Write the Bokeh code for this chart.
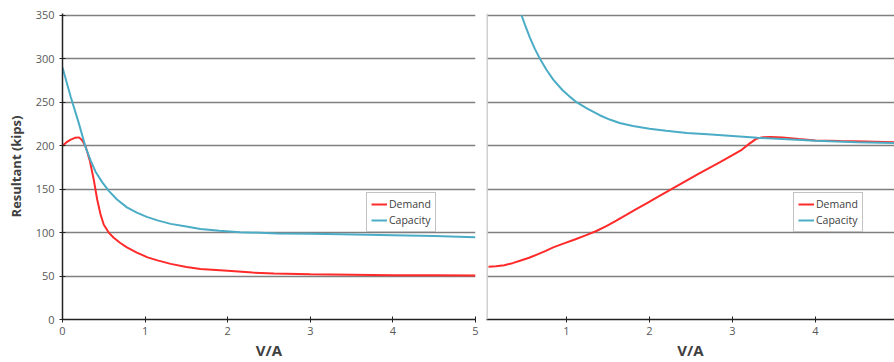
from bokeh.plotting import figure
from bokeh.layouts import row
from bokeh.models import FixedTicker, Span, Range1d
from bokeh.embed import file_html
from bokeh.resources import INLINE

# ---- data ----
y_ticks = [0, 50, 100, 150, 200, 250, 300, 350]
x_ticks_left = [0, 1, 2, 3, 4, 5]
x_ticks_right = [1, 2, 3, 4]

dem_x_l = [0, 0.05, 0.1, 0.15, 0.2, 0.24, 0.28, 0.33, 0.38, 0.42, 0.46, 0.5, 0.56, 0.62, 0.7, 0.78,
           0.9, 1.03, 1.15, 1.31, 1.5, 1.67, 2.0, 2.3, 2.56, 3.0, 3.5, 4.0, 4.5, 5.0]
dem_y_l = [200, 204, 207, 209, 209.5, 206, 199, 183, 160, 138, 121, 109, 100, 94, 88, 83,
           77, 71.5, 68, 64, 60.5, 58, 56, 54, 52.8, 52, 51.5, 51, 50.8, 50.5]
cap_x_l = [0, 0.1, 0.2, 0.28, 0.34, 0.4, 0.48, 0.56, 0.66, 0.78, 0.9, 1.02, 1.15, 1.31, 1.5, 1.67,
           1.9, 2.15, 2.6, 3.0, 3.37, 4.0, 4.5, 5.0]
cap_y_l = [290, 256, 225, 198, 183, 170, 158, 148, 138, 129, 123, 118, 114, 110, 107, 104,
           102, 100.5, 99, 98.5, 98, 97, 96, 94.5]

dem_x_r = [0.06, 0.15, 0.25, 0.35, 0.44, 0.55, 0.65, 0.75, 0.84, 0.97, 1.1, 1.23, 1.36, 1.48, 1.6,
           1.72, 1.84, 1.97, 2.1, 2.35, 2.6, 2.85, 3.0, 3.1, 3.2, 3.28, 3.35, 3.46, 3.6, 3.8, 4.0,
           4.3, 4.6, 4.95]
dem_y_r = [60.7, 61.2, 62.5, 64.8, 67.6, 71, 75, 79, 83, 87.5, 92, 96.8, 101.8, 107.5, 113.8,
           120.3, 127, 134, 141, 154.5, 168, 181, 189, 194.5, 202, 207.5, 209.5, 210, 209.5, 207.5, 206,
           205.3, 204.8, 204]
cap_x_r = [0.458, 0.5, 0.56, 0.62, 0.68, 0.76, 0.84, 0.95, 1.05, 1.12, 1.25, 1.4, 1.52, 1.64, 1.8,
           2.0, 2.2, 2.45, 2.7, 3.0, 3.3, 3.6, 4.0, 4.5, 4.95]
cap_y_r = [350, 339, 324, 311, 300, 287, 276, 264, 255.5, 250, 242.5, 235, 230, 226, 222.5,
           219.5, 217, 214.5, 213, 211, 209, 207.5, 205.5, 204, 203]

RED = "#FF2A2A"
AQUA = "#4BACC6"
GRID = "#7F7F7F"
TXT = "#595959"
FONT = "Open Sans"


def style(p, xticks):
    p.outline_line_color = None
    p.xgrid.visible = False
    p.ygrid.grid_line_color = GRID
    p.ygrid.grid_line_width = 1.5
    p.ygrid.ticker = FixedTicker(ticks=y_ticks)
    p.xaxis.ticker = FixedTicker(ticks=xticks)
    p.xaxis.axis_line_color = "#222222"
    p.xaxis.axis_line_width = 1.5
    p.xaxis.major_tick_line_color = "#222222"
    p.xaxis.major_tick_in = 3
    p.xaxis.major_tick_out = 3
    p.xaxis.minor_tick_line_color = None
    p.xaxis.major_label_text_font = FONT
    p.xaxis.major_label_text_font_size = "11px"
    p.xaxis.major_label_text_color = TXT
    p.xaxis.major_label_standoff = 4
    p.xaxis.axis_label = "V/A"
    p.xaxis.axis_label_text_font = FONT
    p.xaxis.axis_label_text_font_size = "15px"
    p.xaxis.axis_label_text_font_style = "bold"
    p.xaxis.axis_label_text_color = "#404040"
    p.xaxis.axis_label_standoff = 2


def style_legend(p):
    lg = p.legend[0]
    lg.location = (304, 87)
    lg.label_text_font = FONT
    lg.label_text_font_size = "10.5px"
    lg.label_text_color = "#404040"
    lg.glyph_width = 16
    lg.glyph_height = 12
    lg.label_height = 12
    lg.label_standoff = 2
    lg.spacing = 2
    lg.padding = 4
    lg.margin = 0
    lg.border_line_color = "#888888"
    lg.border_line_width = 1
    lg.background_fill_alpha = 1


Y_TOP = 352

# ---- left panel ----
p1 = figure(width=486, height=362, x_range=Range1d(0, 5), y_range=Range1d(0, Y_TOP),
            output_backend="svg", toolbar_location=None,
            min_border_left=62, min_border_right=11, min_border_top=13, min_border_bottom=43)
style(p1, x_ticks_left)
p1.yaxis.ticker = FixedTicker(ticks=y_ticks)
p1.yaxis.axis_line_color = "#222222"
p1.yaxis.axis_line_width = 1.5
p1.yaxis.major_tick_line_color = "#222222"
p1.yaxis.major_tick_in = 3
p1.yaxis.major_tick_out = 3
p1.yaxis.minor_tick_line_color = None
p1.yaxis.major_label_text_font = FONT
p1.yaxis.major_label_text_font_size = "11px"
p1.yaxis.major_label_text_color = TXT
p1.yaxis.major_label_standoff = 5
p1.yaxis.axis_label = "Resultant (kips)"
p1.yaxis.axis_label_text_font = FONT
p1.yaxis.axis_label_text_font_size = "13px"
p1.yaxis.axis_label_text_font_style = "bold"
p1.yaxis.axis_label_text_color = "#404040"
p1.yaxis.axis_label_standoff = 8

p1.line(dem_x_l, dem_y_l, line_color=RED, line_width=2, legend_label="Demand")
p1.line(cap_x_l, cap_y_l, line_color=AQUA, line_width=2, legend_label="Capacity")
style_legend(p1)

# ---- right panel ----
x0_r = 0.036
p2 = figure(width=408, height=362, x_range=Range1d(x0_r, x0_r + 408 / 83.0), y_range=Range1d(0, Y_TOP),
            output_backend="svg", toolbar_location=None,
            min_border_left=0, min_border_right=0, min_border_top=13, min_border_bottom=43)
style(p2, x_ticks_right)
p2.yaxis.visible = False
p2.line(dem_x_r, dem_y_r, line_color=RED, line_width=2, legend_label="Demand")
p2.line(cap_x_r, cap_y_r, line_color=AQUA, line_width=2, legend_label="Capacity")
style_legend(p2)
p2.legend[0].location = (307, 87)
p2.add_layout(Span(location=x0_r, dimension="height", line_color="#D0D0D0", line_width=3))

layout = row(p1, p2)
open("out.html", "w").write(file_html(layout, INLINE))
